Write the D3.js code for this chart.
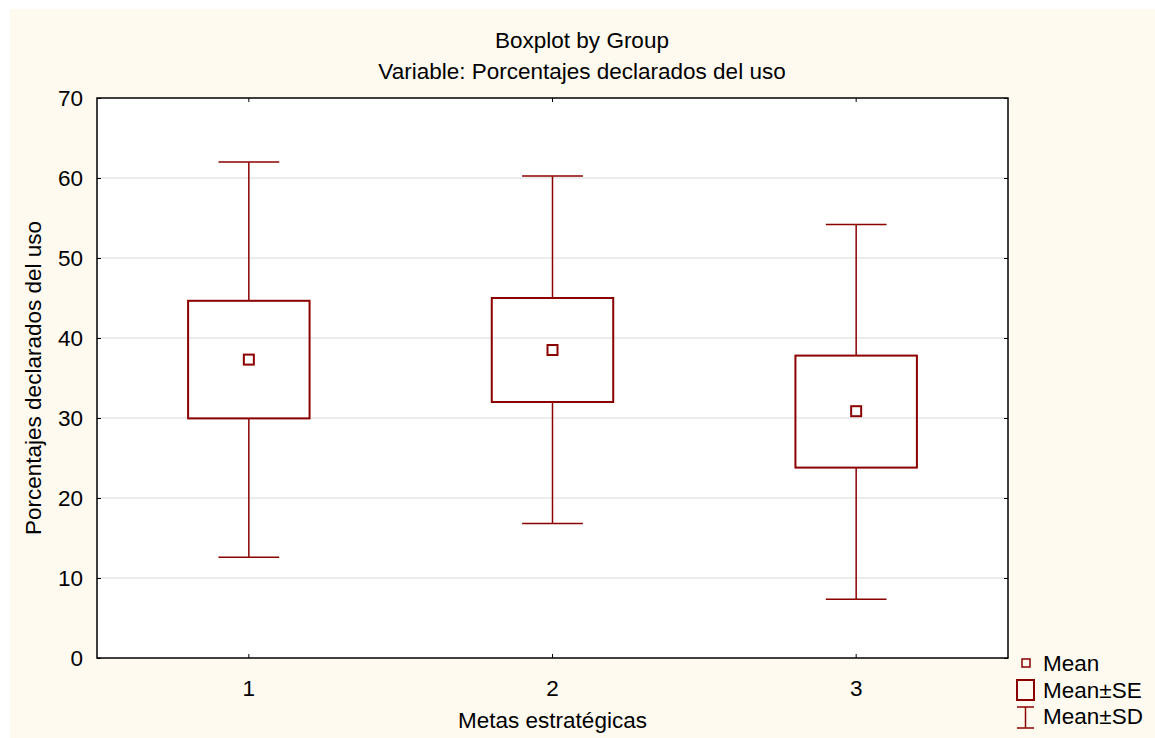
<!DOCTYPE html>
<html>
<head>
<meta charset="utf-8">
<script src="https://cdn.jsdelivr.net/npm/d3@7"></script>
<style>
  html, body { margin: 0; padding: 0; background: #ffffff; }
  svg { display: block; }
  text { font-family: "Liberation Sans", Arial, sans-serif; fill: #000; }
</style>
</head>
<body>
<svg id="chart" width="1155" height="738"></svg>
<script>
// ---- Data ----
const categories = ["1", "2", "3"];
const means  = [37.3, 38.5, 30.85];
const seLow  = [29.95, 32.0, 23.8];
const seHigh = [44.65, 45.0, 37.8];
const sdLow  = [12.6, 16.8, 7.35];
const sdHigh = [62.0, 60.25, 54.2];
const yTicks = [0, 10, 20, 30, 40, 50, 60, 70];
const titleLines = ["Boxplot by Group", "Variable: Porcentajes declarados del uso"];
const xTitle = "Metas estratégicas";
const yTitle = "Porcentajes declarados del uso";
const legendLabels = ["Mean", "Mean±SE", "Mean±SD"];

const W = 1155, H = 738;
const plot = { left: 97, top: 98, right: 1008, bottom: 658 };
const red = "#8b0000";
const fontSize = 22.5;

const svg = d3.select("#chart");

// panel background
svg.append("rect").attr("x", 10).attr("y", 9).attr("width", W - 10).attr("height", H - 9)
  .attr("fill", "#fefaf0");
svg.append("rect").attr("x", plot.left).attr("y", plot.top)
  .attr("width", plot.right - plot.left).attr("height", plot.bottom - plot.top)
  .attr("fill", "#ffffff");

const x = d3.scaleBand().domain(categories).range([plot.left, plot.right]).padding(0);
const y = d3.scaleLinear().domain([0, 70]).range([plot.bottom, plot.top]);

const data = categories.map((c, i) => ({
  c, mean: means[i], seL: seLow[i], seH: seHigh[i], sdL: sdLow[i], sdH: sdHigh[i]
}));

// grid lines
svg.append("g").selectAll("line").data(yTicks.filter(t => t > 0 && t < 70)).join("line")
  .attr("x1", plot.left).attr("x2", plot.right)
  .attr("y1", d => y(d)).attr("y2", d => y(d))
  .attr("stroke", "#d9d9d9").attr("stroke-width", 1);

// axes (ticks inward)
const yAxisL = d3.axisLeft(y).tickValues(yTicks).tickSize(-4).tickPadding(14).tickFormat(d3.format("d"));
const yAxisR = d3.axisRight(y).tickValues(yTicks).tickSize(-4).tickFormat("");
const xAxisB = d3.axisBottom(x).tickSize(-4).tickPadding(22);
const xAxisT = d3.axisTop(x).tickSize(-4).tickFormat("");

function styleAxis(g) {
  g.select(".domain").remove();
  g.selectAll(".tick line").attr("stroke", "#000").attr("stroke-width", 1);
  g.selectAll(".tick text").attr("font-size", fontSize).attr("font-family", "Liberation Sans, Arial, sans-serif").attr("fill", "#000");
}
svg.append("g").attr("transform", `translate(${plot.left},0)`).call(yAxisL).call(styleAxis);
svg.append("g").attr("transform", `translate(${plot.right},0)`).call(yAxisR).call(styleAxis);
svg.append("g").attr("transform", `translate(0,${plot.bottom})`).call(xAxisB).call(styleAxis);
svg.append("g").attr("transform", `translate(0,${plot.top})`).call(xAxisT).call(styleAxis);

// frame
svg.append("rect").attr("x", plot.left).attr("y", plot.top)
  .attr("width", plot.right - plot.left).attr("height", plot.bottom - plot.top)
  .attr("fill", "none").attr("stroke", "#000").attr("stroke-width", 1.5);

// boxes
const bw = x.bandwidth();
const boxW = bw * 0.4, capW = bw * 0.2;
const g = svg.append("g");
data.forEach(d => {
  const cx = x(d.c) + bw / 2;
  // whiskers
  g.append("line").attr("x1", cx).attr("x2", cx).attr("y1", y(d.sdH)).attr("y2", y(d.seH))
    .attr("stroke", red).attr("stroke-width", 1.5);
  g.append("line").attr("x1", cx).attr("x2", cx).attr("y1", y(d.seL)).attr("y2", y(d.sdL))
    .attr("stroke", red).attr("stroke-width", 1.5);
  g.append("line").attr("x1", cx - capW / 2).attr("x2", cx + capW / 2).attr("y1", y(d.sdH)).attr("y2", y(d.sdH))
    .attr("stroke", red).attr("stroke-width", 1.5);
  g.append("line").attr("x1", cx - capW / 2).attr("x2", cx + capW / 2).attr("y1", y(d.sdL)).attr("y2", y(d.sdL))
    .attr("stroke", red).attr("stroke-width", 1.5);
  // SE box
  g.append("rect").attr("x", cx - boxW / 2).attr("y", y(d.seH))
    .attr("width", boxW).attr("height", y(d.seL) - y(d.seH))
    .attr("fill", "none").attr("stroke", red).attr("stroke-width", 2);
  // mean
  g.append("rect").attr("x", cx - 5).attr("y", y(d.mean) - 5).attr("width", 10).attr("height", 10)
    .attr("fill", "none").attr("stroke", red).attr("stroke-width", 2);
});

// titles
svg.append("g").selectAll("text").data(titleLines).join("text")
  .attr("x", 582).attr("y", (d, i) => 48 + i * 31)
  .attr("text-anchor", "middle").attr("font-size", fontSize).text(d => d);
svg.append("text").attr("x", (plot.left + plot.right) / 2).attr("y", 728)
  .attr("text-anchor", "middle").attr("font-size", fontSize).text(xTitle);
svg.append("text").attr("transform", `translate(41,${(plot.top + plot.bottom) / 2}) rotate(-90)`)
  .attr("text-anchor", "middle").attr("font-size", fontSize).text(yTitle);

// legend
const lg = svg.append("g");
lg.append("rect").attr("x", 1022).attr("y", 659).attr("width", 8).attr("height", 8)
  .attr("fill", "none").attr("stroke", red).attr("stroke-width", 1.5);
lg.append("rect").attr("x", 1017).attr("y", 680).attr("width", 17).attr("height", 20)
  .attr("fill", "none").attr("stroke", red).attr("stroke-width", 2);
lg.append("line").attr("x1", 1025.5).attr("x2", 1025.5).attr("y1", 707).attr("y2", 728).attr("stroke", red).attr("stroke-width", 1.5);
lg.append("line").attr("x1", 1017).attr("x2", 1034).attr("y1", 707).attr("y2", 707).attr("stroke", red).attr("stroke-width", 1.5);
lg.append("line").attr("x1", 1017).attr("x2", 1034).attr("y1", 728).attr("y2", 728).attr("stroke", red).attr("stroke-width", 1.5);
lg.selectAll("text").data(legendLabels).join("text")
  .attr("x", 1043).attr("y", (d, i) => 671 + i * 26.5)
  .attr("font-size", fontSize).text(d => d);
</script>
</body>
</html>
